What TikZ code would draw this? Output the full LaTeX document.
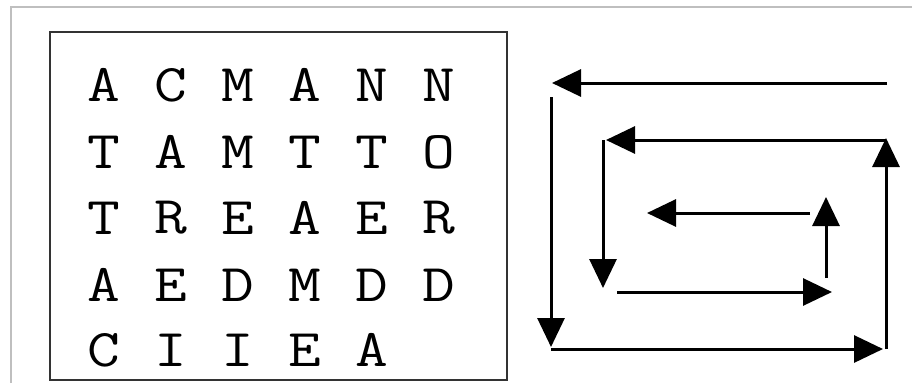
\documentclass[tikz,border=0pt]{standalone}
\usetikzlibrary{arrows.meta}
\newcommand{\gridch}[1]{\scalebox{1.2}[1]{#1}}
\begin{document}
\begin{tikzpicture}[x=1pt,y=-1pt,
  letter/.style={inner sep=0pt,anchor=center,font=\fontsize{53}{53}\selectfont\ttfamily,text=black},
  grid box/.style={draw=black!80,line width=2.5pt},
  frame line/.style={draw=black!25,line width=2pt},
  spiral/.style={draw=black,line width=3pt,-{Triangle[length=29pt,width=27pt]}}]
\useasboundingbox[fill=white] (0,0) rectangle (912,383);

% window frame edge
\draw[frame line] (11,383) -- (11,6.5) -- (912,6.5);

% letter grid
\draw[grid box] (50,32) rectangle (507,380);
\foreach \row/\y/\letters in {1/85/{A,C,M,A,N,N},2/152/{T,A,M,T,T,O},3/218/{T,R,E,A,E,R},4/285/{A,E,D,M,D,D},5/350/{C,I,I,E,A}}{
  \foreach \ch [count=\col] in \letters {
    \node[letter] (l\row-\col) at ({104+67*(\col-1)},\y) {\gridch{\ch}};
  }
}

% spiral path points
\coordinate (s1) at (887,83);
\coordinate (e1) at (552,83);
\coordinate (s2) at (551,97);
\coordinate (e2) at (551,347);
\coordinate (s3) at (551,349);
\coordinate (e3) at (883,349);
\coordinate (s4) at (886,349);
\coordinate (e4) at (886,138);
\coordinate (s5) at (886,140);
\coordinate (e5) at (606,140);
\coordinate (s6) at (603,140);
\coordinate (e6) at (603,288);
\coordinate (s7) at (617,292);
\coordinate (e7) at (832,292);
\coordinate (s8) at (826,278);
\coordinate (e8) at (826,197);
\coordinate (s9) at (810,213);
\coordinate (e9) at (647,213);

% spiral arrows
\foreach \i in {1,...,9}{
  \draw[spiral] (s\i) -- (e\i);
}
\end{tikzpicture}
\end{document}
